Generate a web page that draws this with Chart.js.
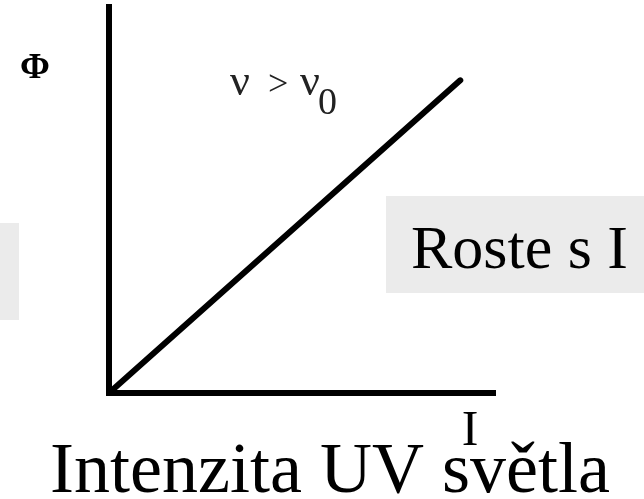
<!DOCTYPE html>
<html>
<head>
<meta charset="utf-8">
<script src="https://cdn.jsdelivr.net/npm/chart.js"></script>
<style>
  html, body { margin: 0; padding: 0; background: #fff; }
  #wrap { width: 644px; height: 499px; }
</style>
</head>
<body>
<div id="wrap"><canvas id="graf" width="644" height="499"></canvas></div>
<script>
// data: photo current vs. UV intensity (arbitrary units)
const intenzita = [0, 91];
const proud = [0, 81];
const osaY = "Φ";
const osaX = "I";
const podminka = ["ν", ">", "ν"];
const podminkaIndex = "0";
const popisek = "Roste s I";
const nazevX = "Intenzita UV světla";

const serif = "'Liberation Serif', 'Times New Roman', serif";

// texty a sede ramecky kolem grafu
const popisky = {
    id: "popisky",
    afterDraw(chart) {
        const ctx = chart.ctx;
        ctx.save();
        ctx.fillStyle = "#ebebeb";
        ctx.fillRect(0, 223, 19, 97);
        ctx.fillRect(386, 196, 258, 97);

        ctx.fillStyle = "#000";
        ctx.textBaseline = "alphabetic";
        ctx.textAlign = "center";
        ctx.font = "bold 36px " + serif;
        ctx.fillText(osaY, 35, 78);

        ctx.textAlign = "left";
        ctx.fillStyle = "#222";
        ctx.font = "44px " + serif;
        ctx.fillText(podminka[0], 230, 95);
        ctx.fillText(podminka[2], 300, 95);
        ctx.font = "36px " + serif;
        ctx.fillText(podminka[1], 268, 95);
        ctx.font = "38px " + serif;
        ctx.fillText(podminkaIndex, 318, 114);

        ctx.fillStyle = "#000";
        ctx.font = "62px " + serif;
        ctx.fillText(popisek, 411, 268);

        ctx.textAlign = "center";
        ctx.font = "50px " + serif;
        ctx.fillText(osaX, 470, 445);

        ctx.font = "72px " + serif;
        ctx.fillText(nazevX, 330, 492);
        ctx.restore();
    }
};

new Chart(document.getElementById("graf"), {
    type: "line",
    data: {
        datasets: [{
            data: intenzita.map((x, i) => ({ x: x, y: proud[i] })),
            borderColor: "#000",
            borderWidth: 6,
            borderCapStyle: "round",
            pointRadius: 0,
            fill: false
        }]
    },
    options: {
        responsive: false,
        animation: false,
        layout: { padding: { left: 101, right: 149, top: 7, bottom: 98 } },
        plugins: { legend: { display: false }, tooltip: { enabled: false } },
        scales: {
            x: {
                type: "linear", min: 0, max: 100,
                ticks: { display: false },
                grid: { display: false },
                border: { display: true, color: "#000", width: 6 }
            },
            y: {
                type: "linear", min: 0, max: 100,
                ticks: { display: false },
                grid: { display: false },
                border: { display: true, color: "#000", width: 6 }
            }
        }
    },
    plugins: [popisky]
});
</script>
</body>
</html>
